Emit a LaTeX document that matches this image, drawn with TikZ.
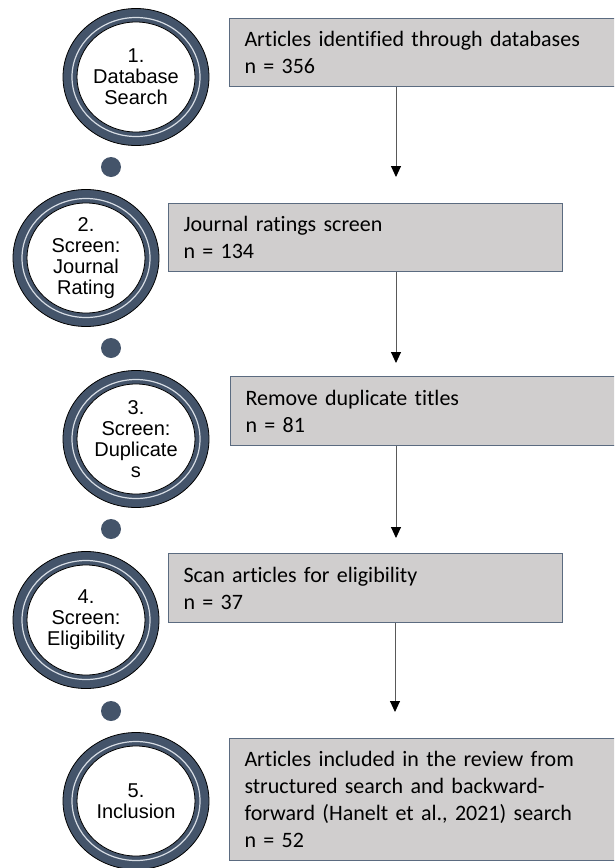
\documentclass[tikz,border=0pt]{standalone}
\usepackage{fontspec}
\setmainfont{Carlito}[Ligatures=NoCommon]
\newfontfamily\arialfont{Liberation Sans}
\usetikzlibrary{shapes.geometric,arrows.meta}

\definecolor{slate}{HTML}{44546A}
\definecolor{ringline}{HTML}{D6DCE4}
\definecolor{boxgray}{HTML}{D0CECE}
\definecolor{boxline}{HTML}{5B6B80}
\definecolor{stemgray}{HTML}{595959}

\begin{document}
\begin{tikzpicture}[x=1pt,y=-1pt,
    stage/.style={ellipse, draw=black, line width=0.8pt, fill=slate,
      minimum width=146pt, minimum height=137pt, inner sep=0pt, align=center,
      font=\arialfont\fontsize{20}{21}\selectfont,
      path picture={
        \draw[ringline, line width=1.2pt] (path picture bounding box.center)
          ellipse [x radius=64pt, y radius=59.5pt];
        \draw[black, line width=0.8pt, fill=white] (path picture bounding box.center)
          ellipse [x radius=59pt, y radius=55pt];}},
    countbox/.style={rectangle, draw=boxline, line width=1pt, fill=boxgray,
      anchor=north west, inner xsep=15pt, inner ysep=0pt, align=left,
      minimum height=68pt, font=\fontsize{22}{27}\selectfont},
    dot/.style={circle, fill=slate, minimum size=20pt, inner sep=0pt},
    flow/.style={draw=stemgray, line width=0.9pt,
      -{Triangle[width=10pt,length=11pt,color=black]}}]

  % page frame
  \useasboundingbox (0,0) rectangle (614,868);
  \clip (0,0) rectangle (614,868);

  % stage rings
  \node[stage] (s1) at (136,77) {1.\\Database\\Search};
  \node[stage] (s2) at (86,258) {2.\\Screen:\\Journal\\Rating};
  \node[stage] (s3) at (136,439) {3.\\Screen:\\Duplicate\\s};
  \node[stage] (s4) at (86,620) {4.\\Screen:\\Eligibility};
  \node[stage] (s5) at (136,801) {5.\\Inclusion};

  % dots between stages
  \node[dot] (d1) at (111,167) {};
  \node[dot] (d2) at (111,348) {};
  \node[dot] (d3) at (111,529) {};
  \node[dot] (d4) at (111,711) {};

  % count boxes
  \node[countbox, text width=370pt] (b1) at (229,18)
    {Articles identified through databases\\n = 356};
  \node[countbox, text width=364pt] (b2) at (168,203)
    {Journal ratings screen\\n = 134};
  \node[countbox, text width=370pt, minimum height=69pt] (b3) at (230,376)
    {Remove duplicate titles\\n = 81};
  \node[countbox, text width=364pt, minimum height=69pt] (b4) at (168,553)
    {Scan articles for eligibility\\n = 37};
  \node[countbox, text width=370pt, minimum height=122pt] (b5) at (229,738)
    {Articles included in the review from\\structured search and backward-\\forward (Hanelt et al., 2021) search\\n = 52};

  % arrow tips
  \coordinate (t1) at (396,177);
  \coordinate (t2) at (396,363);
  \coordinate (t3) at (396,538);
  \coordinate (t4) at (395,712);

  % arrows
  \draw[flow] (b1.south -| t1) -- (t1);
  \draw[flow] (b2.south -| t2) -- (t2);
  \draw[flow] (b3.south -| t3) -- (t3);
  \draw[flow] (b4.south -| t4) -- (t4);
\end{tikzpicture}
\end{document}
